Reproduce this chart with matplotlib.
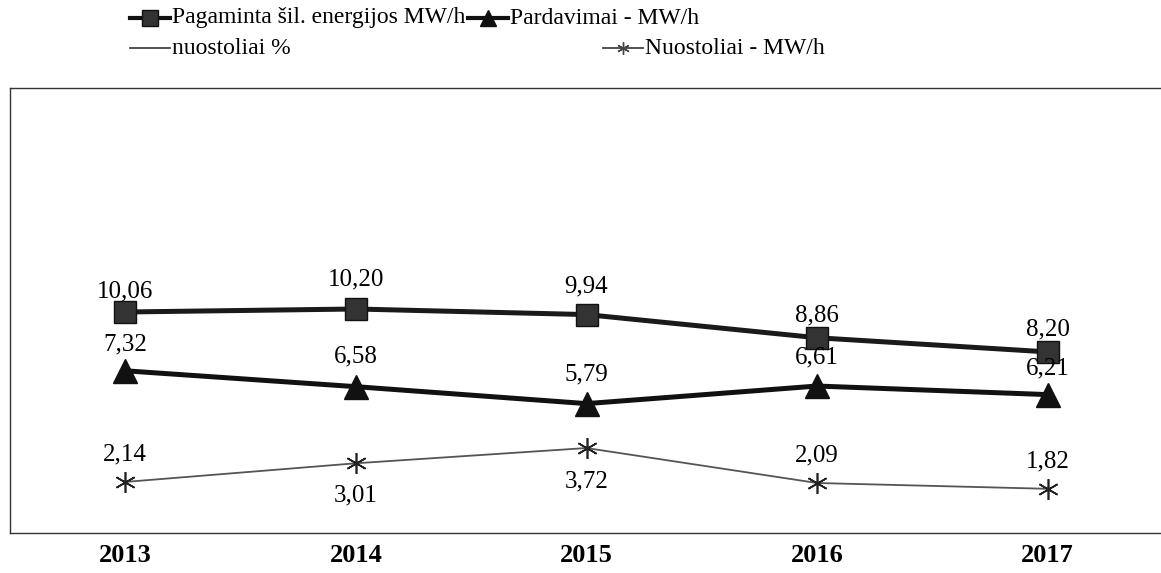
import matplotlib
matplotlib.use("Agg")
import matplotlib.pyplot as plt
from matplotlib.lines import Line2D

plt.rcParams['font.family'] = ['Liberation Serif', 'DejaVu Serif']

years = ['2013', '2014', '2015', '2016', '2017']
pagaminta = [10.06, 10.20, 9.94, 8.86, 8.20]
pardavimai = [7.32, 6.58, 5.79, 6.61, 6.21]
nuostoliai_mwh = [2.14, 3.01, 3.72, 2.09, 1.82]
# nuostoliai % : values lie outside the visible range of the chart (not shown)

W, H = 1161, 573
fig = plt.figure(figsize=(W/100, H/100), dpi=100)
ax = fig.add_axes([10/W, 1-533/H, (1163-10)/W, (533-88)/H])

x = list(range(len(years)))
ax.plot(x, pagaminta, color='#1a1a1a', lw=3.6, marker='s', ms=16, mec='#111', mfc='#333', zorder=3)
ax.plot(x, pardavimai, color='#111', lw=3.6, marker='^', ms=17, mec='#111', mfc='#111', zorder=3)
ax.plot(x, nuostoliai_mwh, color='#555', lw=1.3, marker=(6, 2, 0), ms=15, mec='#222', mew=1.2, zorder=3)

def fmt(v):
    return f"{v:.2f}".replace('.', ',')

fs = 18
off_pag = [7, 13, 12, 8, 8]
off_par = [11, 14, 13, 13, 11]
off_nuo = [12, -15, -16, 12, 12]
for i, v in enumerate(pagaminta):
    ax.annotate(fmt(v), (i, v), xytext=(0, off_pag[i]), textcoords='offset points', ha='center', va='bottom', fontsize=fs)
for i, v in enumerate(pardavimai):
    ax.annotate(fmt(v), (i, v), xytext=(0, off_par[i]), textcoords='offset points', ha='center', va='bottom', fontsize=fs)
for i, v in enumerate(nuostoliai_mwh):
    o = off_nuo[i]
    ax.annotate(fmt(v), (i, v), xytext=(0, o), textcoords='offset points', ha='center',
                va='bottom' if o > 0 else 'top', fontsize=fs)

ax.set_xlim(-0.5, 4.5)
ax.set_ylim(-0.24, 20.5)
ax.set_yticks([])
ax.set_xticks(x)
ax.set_xticklabels(years, fontsize=19, fontweight='bold')
ax.tick_params(axis='x', length=0, pad=8)
for s in ['left', 'top', 'bottom']:
    ax.spines[s].set_color('#333')
    ax.spines[s].set_linewidth(1.0)
ax.spines['right'].set_visible(False)

# legend drawn manually (Excel-like layout)
def leg(x0, y0, label, marker, ms, lw, color, mfc):
    xs = [x0/W, (x0+40)/W]
    ys = [1-y0/H, 1-y0/H]
    fig.add_artist(Line2D(xs, ys, color=color, lw=lw))
    if marker is not None:
        fig.add_artist(Line2D([(x0+20)/W], [1-y0/H], marker=marker, ms=ms, color=color, mfc=mfc, mec=color, lw=0, mew=1.0))
    fig.text((x0+42)/W, 1-y0/H, label, fontsize=17, va='center', ha='left')

leg(130, 18, 'Pagaminta šil. energijos MW/h', 's', 11, 3.0, '#111', '#333')
leg(468, 18, 'Pardavimai - MW/h', '^', 11, 3.0, '#111', '#111')
leg(130, 48, 'nuostoliai %', None, 0, 1.3, '#444', '#444')
leg(603, 48, 'Nuostoliai - MW/h', (6, 2, 0), 9, 1.3, '#444', '#444')

fig.savefig('out.png', dpi=100)
